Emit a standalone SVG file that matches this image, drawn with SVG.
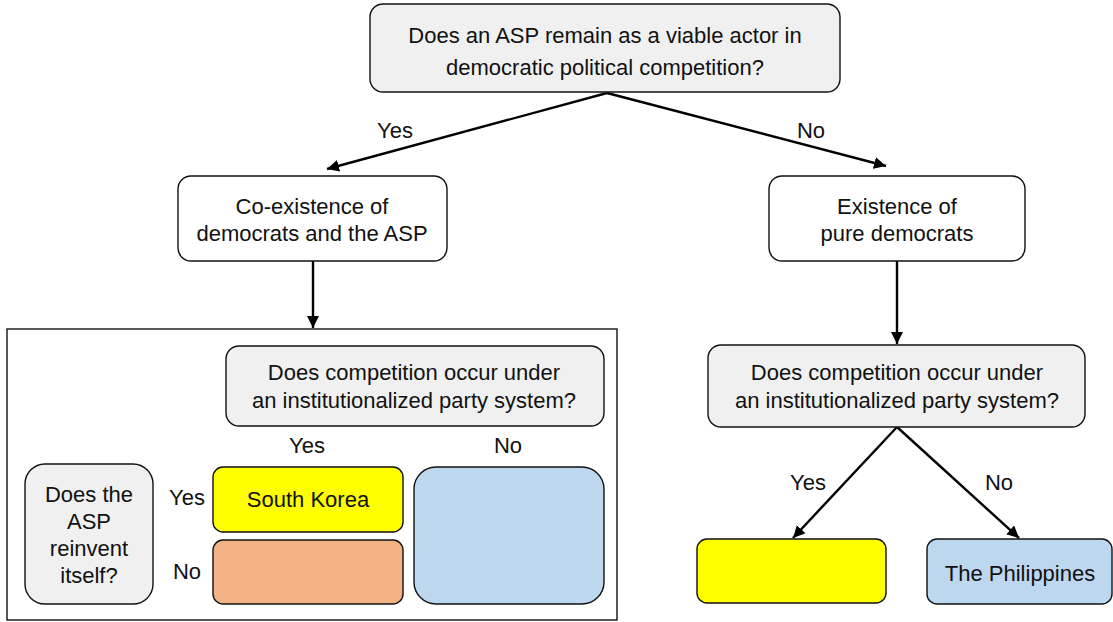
<svg xmlns="http://www.w3.org/2000/svg" width="1113" height="622" viewBox="0 0 1113 622">
<defs>
<marker id="ah" viewBox="0 0 10 10" refX="10" refY="5" markerWidth="5" markerHeight="5" markerUnits="strokeWidth" orient="auto">
<path d="M0,0 L10,5 L0,10 z" fill="#000"/>
</marker>
<style>
text{font-family:"Liberation Sans",Arial,Helvetica,sans-serif;font-size:22px;fill:#111;text-anchor:middle}
.box{stroke:#111;stroke-width:1.4}
.q{fill:#f0f0f0}
.w{fill:#fff}
.y{fill:#ffff00}
.o{fill:#f4b183}
.b{fill:#bdd7ee}
.c{stroke:#000;stroke-width:2.4;fill:none;marker-end:url(#ah)}
</style>
</defs>
<rect x="0" y="0" width="1113" height="622" fill="#fff"/>
<g id="connectors">
<line class="c" x1="607" y1="93" x2="327" y2="169"/>
<line class="c" x1="607" y1="93" x2="886" y2="166"/>
<line class="c" x1="313" y1="261" x2="313" y2="328"/>
<line class="c" x1="897" y1="261" x2="897" y2="344"/>
<line class="c" x1="897" y1="427" x2="793" y2="538"/>
<line class="c" x1="897" y1="427" x2="1019" y2="538"/>
</g>
<g id="edge-labels">
<text x="395" y="138">Yes</text>
<text x="811" y="138">No</text>
<text x="808" y="490">Yes</text>
<text x="999" y="490">No</text>
</g>
<g id="top-question">
<rect class="box q" x="370" y="4" width="470" height="88" rx="13"/>
<text x="605" y="43">Does an ASP remain as a viable actor in</text>
<text x="605" y="75">democratic political competition?</text>
</g>
<g id="coexistence">
<rect class="box w" x="178" y="176" width="269" height="85" rx="13"/>
<text x="312" y="214">Co-existence of</text>
<text x="312" y="241">democrats and the ASP</text>
</g>
<g id="existence">
<rect class="box w" x="769" y="176" width="256" height="85" rx="13"/>
<text x="897" y="214">Existence of</text>
<text x="897" y="241">pure democrats</text>
</g>
<g id="left-panel">
<rect x="7" y="329" width="610" height="291" fill="none" stroke="#111" stroke-width="1.4"/>
</g>
<g id="left-question">
<rect class="box q" x="226" y="346" width="378" height="80" rx="13"/>
<text x="414" y="380">Does competition occur under</text>
<text x="414" y="408">an institutionalized party system?</text>
</g>
<g id="left-col-labels">
<text x="307" y="453">Yes</text>
<text x="508" y="453">No</text>
<text x="187" y="505">Yes</text>
<text x="187" y="579">No</text>
</g>
<g id="reinvent-question">
<rect class="box q" x="25" y="464" width="128" height="140" rx="20"/>
<text x="89" y="502">Does the</text>
<text x="89" y="529">ASP</text>
<text x="89" y="556">reinvent</text>
<text x="89" y="583">itself?</text>
</g>
<g id="south-korea">
<rect class="box y" x="213" y="467" width="190" height="65" rx="10"/>
<text x="308" y="507">South Korea</text>
</g>
<g id="orange-cell">
<rect class="box o" x="213" y="540" width="190" height="64" rx="10"/>
</g>
<g id="blue-cell">
<rect class="box b" x="414" y="467" width="190" height="137" rx="22"/>
</g>
<g id="right-question">
<rect class="box q" x="708" y="345" width="377" height="82" rx="13"/>
<text x="897" y="380">Does competition occur under</text>
<text x="897" y="408">an institutionalized party system?</text>
</g>
<g id="right-yellow">
<rect class="box y" x="697" y="539" width="189" height="64" rx="10"/>
</g>
<g id="philippines">
<rect class="box b" x="927" y="539" width="185" height="65" rx="10"/>
<text x="1020" y="581">The Philippines</text>
</g>
</svg>
